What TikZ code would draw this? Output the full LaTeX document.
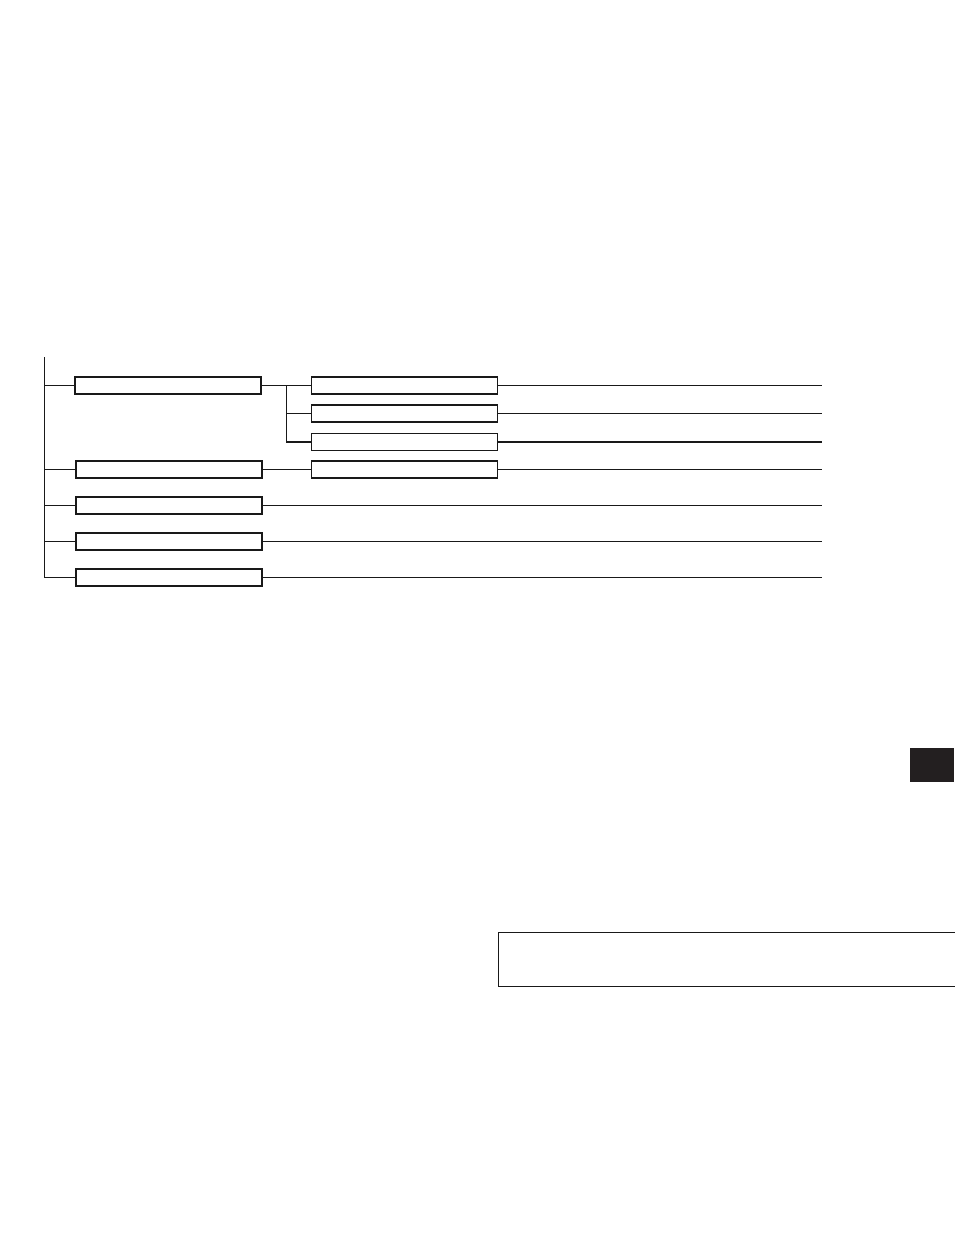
\documentclass[tikz,border=0pt]{standalone}
\begin{document}
\begin{tikzpicture}[x=1pt,y=-1pt,
  line cap=rect,
  box/.style={draw=black!90, line width=1.1pt, minimum width=186pt, minimum height=17pt, inner sep=0pt, outer sep=0pt, anchor=north west},
  conn/.style={draw=black!90, line width=1.1pt}]
\useasboundingbox (0,0) rectangle (954,1235);
% left-level boxes
\node[box] (a1) at (75,377) {};
\node[box] (a2) at (76,461) {};
\node[box] (a3) at (76,497) {};
\node[box] (a4) at (76,533) {};
\node[box] (a5) at (76,569) {};
% sub boxes
\node[box] (b1) at (311.5,377) {};
\node[box] (b2) at (311.5,405) {};
\node[box] (b3) at (311.5,433.5) {};
\node[box] (b4) at (311.5,461) {};
% trunk
\coordinate (top) at (44.5,358);
\coordinate (bot) at (44.5,577.5);
\path[conn] (top) -- (bot);
\foreach \n in {a1,a2,a3,a4,a5} \path[conn] (\n.west -| top) -- (\n.west);
% branch
\coordinate (br) at (286.5,0);
\path[conn] (a1.east) -- (b1.west);
\path[conn] (a1.east -| br) -- (b3.west -| br) -- (b3.west);
\path[conn] (b2.west -| br) -- (b2.west);
\path[conn] (a2.east) -- (b4.west);
% outgoing lines
\coordinate (endx) at (821.5,0);
\foreach \n in {b1,b2,b3,b4,a3,a4,a5} \path[conn] (\n.east) -- (\n.east -| endx);
% dark tab
\node[fill={rgb,255:red,35;green,31;blue,32}, minimum width=44pt, minimum height=34pt, inner sep=0pt, anchor=north west] (tab) at (910,748) {};
% bottom box
\node[draw=black!90, line width=1.1pt, minimum width=459pt, minimum height=54pt, inner sep=0pt, anchor=north west] (note) at (497.5,931.5) {};
\end{tikzpicture}
\end{document}
